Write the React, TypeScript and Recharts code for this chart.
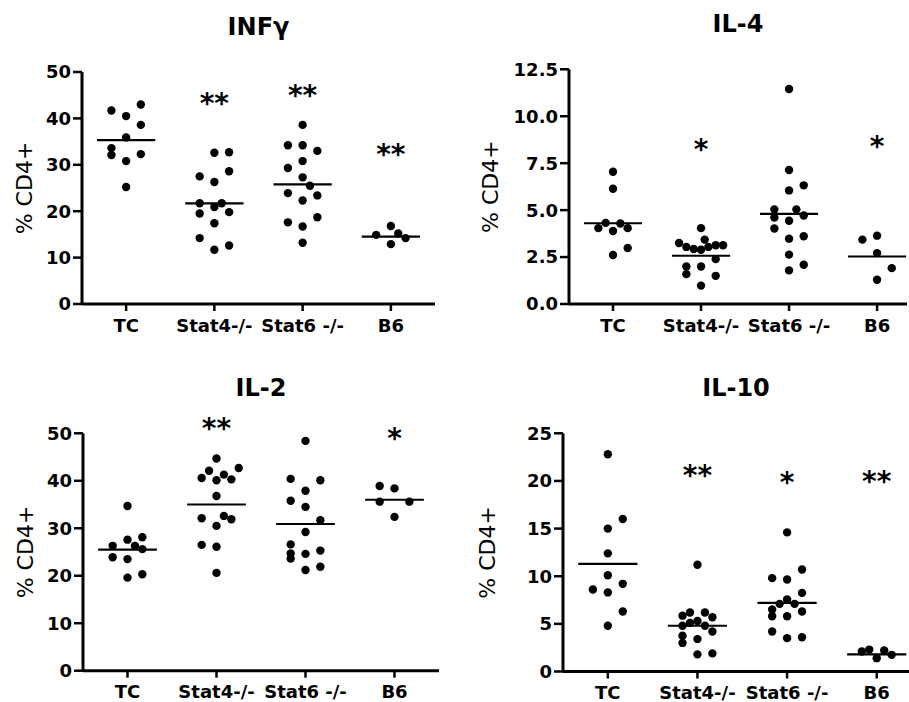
import React from 'react';
import {
  ScatterChart,
  Scatter,
  XAxis,
  YAxis,
  ReferenceLine,
  ReferenceDot,
  Label,
} from 'recharts';

// groups on the x axis
const groups = ['TC', 'Stat4-/-', 'Stat6 -/-', 'B6'];

// INFγ
const infgTC = [41.7, 40.5, 43.0, 38.6, 35.9, 33.6, 32.1, 30.8, 32.3, 25.2];
const infgTCLane = [-2, 0, 2, 2, 0, -2, -2, 0, 2, 0];
const infgStat4 = [32.6, 32.7, 28.6, 27.5, 26.3, 21.7, 20.9, 21.7, 19.8, 19.5, 17.4, 14.2, 12.6, 11.7];
const infgStat4Lane = [0, 2, 2, -2, 0, -2, 0, 1, 2, -2, 0, -2, 2, 0];
const infgStat6 = [38.6, 34.2, 34.2, 33.0, 30.8, 29.3, 27.3, 25.5, 23.9, 23.4, 22.3, 18.7, 17.6, 16.7, 13.2];
const infgStat6Lane = [0, -2, 0, 2, 0, -2, 0, 1, -2, 2, 0, 2, -2, 0, 0];
const infgB6 = [16.8, 14.9, 15.2, 14.2, 12.9];
const infgB6Lane = [0, -2, 1, 2, 0];
const infgMeans = [35.3, 21.7, 25.8, 14.5];
const infgStars = ['', '**', '**', '**'];
const infgStarY = [0, 44.5, 46.2, 33.5];

// IL-4
const il4TC = [7.04, 6.14, 4.32, 4.29, 4.04, 3.89, 4.04, 2.98, 2.61];
const il4TCLane = [0, 0, -1, 1, -2, 0, 2, 2, 0];
const il4Stat4 = [4.04, 3.25, 3.04, 2.93, 2.89, 3.43, 3.04, 3.13, 3.13, 2.39, 2.0, 2.0, 1.59, 1.5, 0.98];
const il4Stat4Lane = [0, -3, -2, -1, 0, 0.5, 1, 2, 3, 2, -2, 0, -2, 2, 0];
const il4Stat6 = [11.45, 7.14, 6.32, 6.05, 5.04, 5.04, 4.61, 4.43, 4.71, 4.02, 3.48, 3.61, 2.63, 2.09, 1.79];
const il4Stat6Lane = [0, 0, 2, 0, -2, 1, -2, 0, 2, -2, 0, 2, 0, 2, 0];
const il4B6 = [3.43, 3.64, 2.71, 1.91, 1.29];
const il4B6Lane = [-2, 0, 0, 2, 0];
const il4Means = [4.3, 2.57, 4.8, 2.53];
const il4Stars = ['', '*', '', '*'];
const il4StarY = [0, 8.5, 0, 8.7];

// IL-2
const il2TC = [34.7, 27.6, 28.1, 26.3, 26.3, 25.6, 23.9, 23.5, 19.6, 20.3];
const il2TCLane = [0, 0, 2, -2, 1, 2, -2, 0, 0, 2];
const il2Stat4 = [44.7, 42.1, 42.7, 41.3, 40.6, 40.1, 40.3, 36.8, 32.1, 32.6, 31.9, 30.5, 26.5, 26.1, 20.6];
const il2Stat4Lane = [0, -1, 3, 1, -2, 0, 2, 0, -2, 1, 2, 0, -2, 0, 0];
const il2Stat6 = [48.4, 40.4, 40.1, 37.9, 35.8, 34.5, 31.7, 29.2, 26.6, 24.7, 23.6, 24.6, 25.3, 21.2, 21.9];
const il2Stat6Lane = [0, -2, 2, 0, -2, 0, 2, 0, -2, -2, -2, 0, 2, 0, 2];
const il2B6 = [38.9, 38.4, 35.6, 35.6, 32.4];
const il2B6Lane = [-2, 0, -2, 2, 0];
const il2Means = [25.5, 35.0, 30.9, 36.0];
const il2Stars = ['', '**', '', '*'];
const il2StarY = [0, 52.1, 0, 50.1];

// IL-10
const il10TC = [22.8, 16.0, 15.0, 12.4, 10.1, 9.2, 8.6, 8.3, 6.3, 4.8];
const il10TCLane = [0, 2, 0, 0, 0, 2, -2, 0, 2, 0];
const il10Stat4 = [11.2, 5.86, 6.2, 6.2, 5.7, 4.8, 5.1, 5.3, 4.8, 3.76, 4.2, 3.4, 3.0, 1.8, 1.9];
const il10Stat4Lane = [0, -2, -1, 1, 2, -2, -1, 0, 1, -2, 2, 0, -2, 0, 2];
const il10Stat6 = [14.6, 9.8, 9.65, 10.7, 8.25, 7.55, 7.1, 7.1, 6.5, 6.3, 5.8, 5.8, 4.2, 3.5, 3.6];
const il10Stat6Lane = [0, -2, 0, 2, 2, 0, -1, 1, -2, 2, -2, 0, -2, 0, 2];
const il10B6 = [2.1, 2.3, 1.4, 2.2, 1.75];
const il10B6Lane = [-2, -1, 0, 1, 2];
const il10Means = [11.3, 4.8, 7.2, 1.8];
const il10Stars = ['', '**', '*', '**'];
const il10StarY = [0, 21.2, 20.4, 20.5];

const LANE = 1 / 12;
const FONT = 'DejaVu Sans';

interface PanelProps {
  left: number;
  top: number;
  width: number;
  height: number;
  plotTop: number;
  plotBottom: number;
  plotLeft: number;
  plotRight: number;
  labelX: number;
  title: string;
  yDomain: [number, number];
  yTicks: number[];
  xMax: number;
  fmt: (v: number) => string;
  values: number[][];
  lanes: number[][];
  means: number[];
  stars: string[];
  starY: number[];
}

const Panel = (p: PanelProps) => {
  const points = p.values.flatMap((vals, g) =>
    vals.map((v, k) => ({ x: g + p.lanes[g][k] * LANE, y: v }))
  );
  const xAxisHeight = 30;
  const margin = {
    top: p.plotTop - p.top,
    right: p.left + p.width - p.plotRight,
    bottom: p.top + p.height - p.plotBottom - xAxisHeight,
    left: 0,
  };
  return (
    <div style={{ position: 'absolute', left: p.left, top: p.top, width: p.width, height: p.height }}>
      <div
        style={{
          position: 'absolute',
          left: p.plotLeft - p.left,
          width: p.plotRight - p.plotLeft,
          top: p.plotTop - p.top - 57,
          textAlign: 'center',
          fontFamily: FONT,
          fontWeight: 'bold',
          fontSize: 24,
          lineHeight: '24px',
        }}
      >
        {p.title}
      </div>
      <ScatterChart width={p.width} height={p.height} margin={margin}>
        <XAxis
          type="number"
          dataKey="x"
          domain={[-0.5, p.xMax]}
          ticks={[0, 1, 2, 3]}
          interval={0}
          height={xAxisHeight}
          tickFormatter={(v: number) => groups[v]}
          axisLine={{ stroke: '#000', strokeWidth: 3 }}
          tickLine={{ stroke: '#000', strokeWidth: 2.5 }}
          tickSize={7}
          tickMargin={8}
          tick={{ fill: '#000', fontSize: 18, fontWeight: 'bold', fontFamily: FONT }}
        />
        <YAxis
          type="number"
          dataKey="y"
          domain={p.yDomain}
          ticks={p.yTicks}
          interval={0}
          width={p.plotLeft - p.left}
          tickFormatter={p.fmt}
          axisLine={{ stroke: '#000', strokeWidth: 3 }}
          tickLine={{ stroke: '#000', strokeWidth: 2.5 }}
          tickSize={9}
          tickMargin={2}
          tick={{ fill: '#000', fontSize: 18, fontWeight: 'bold', fontFamily: FONT }}
        >
          <Label
            value="% CD4+"
            angle={-90}
            position="insideLeft"
            offset={p.labelX - p.left}
            style={{ textAnchor: 'middle', fontSize: 22, fontFamily: FONT, fill: '#000' }}
          />
        </YAxis>
        <Scatter
          data={points}
          isAnimationActive={false}
          shape={(s: any) => <circle cx={s.cx} cy={s.cy} r={4.2} fill="#000" />}
        />
        {p.means.map((m, g) => (
          <ReferenceLine
            key={'m' + g}
            segment={[
              { x: g - 0.33, y: m },
              { x: g + 0.33, y: m },
            ]}
            stroke="#000"
            strokeWidth={2.2}
            ifOverflow="visible"
          />
        ))}
        {p.stars.map((s, g) =>
          s ? (
            <ReferenceDot
              key={'s' + g}
              x={g}
              y={p.starY[g]}
              ifOverflow="visible"
              shape={(d: any) => (
                <text
                  x={d.cx}
                  y={d.cy + 15}
                  textAnchor="middle"
                  fontSize={28}
                  fontWeight="bold"
                  fontFamily={FONT}
                  fill="#000"
                >
                  {s}
                </text>
              )}
            />
          ) : null
        )}
      </ScatterChart>
    </div>
  );
};

const fmtInt = (v: number) => String(v);
const fmt1 = (v: number) => v.toFixed(1);

export default function App() {
  return (
    <div
      style={{
        position: 'absolute',
        left: 0,
        top: 0,
        width: 909,
        height: 702,
        overflow: 'hidden',
        background: '#fff',
      }}
    >
      <Panel
        left={0}
        top={0}
        width={450}
        height={345}
        plotTop={72}
        plotBottom={304}
        plotLeft={82}
        plotRight={435}
        labelX={24}
        title="INFγ"
        yDomain={[0, 50]}
        yTicks={[0, 10, 20, 30, 40, 50]}
        xMax={3.5}
        fmt={fmtInt}
        values={[infgTC, infgStat4, infgStat6, infgB6]}
        lanes={[infgTCLane, infgStat4Lane, infgStat6Lane, infgB6Lane]}
        means={infgMeans}
        stars={infgStars}
        starY={infgStarY}
      />
      <Panel
        left={460}
        top={0}
        width={449}
        height={345}
        plotTop={69.3}
        plotBottom={304}
        plotLeft={569}
        plotRight={907}
        labelX={490}
        title="IL-4"
        yDomain={[0, 12.5]}
        yTicks={[0, 2.5, 5, 7.5, 10, 12.5]}
        xMax={3.34}
        fmt={fmt1}
        values={[il4TC, il4Stat4, il4Stat6, il4B6]}
        lanes={[il4TCLane, il4Stat4Lane, il4Stat6Lane, il4B6Lane]}
        means={il4Means}
        stars={il4Stars}
        starY={il4StarY}
      />
      <Panel
        left={0}
        top={360}
        width={450}
        height={342}
        plotTop={433.3}
        plotBottom={670.7}
        plotLeft={83}
        plotRight={439}
        labelX={25}
        title="IL-2"
        yDomain={[0, 50]}
        yTicks={[0, 10, 20, 30, 40, 50]}
        xMax={3.5}
        fmt={fmtInt}
        values={[il2TC, il2Stat4, il2Stat6, il2B6]}
        lanes={[il2TCLane, il2Stat4Lane, il2Stat6Lane, il2B6Lane]}
        means={il2Means}
        stars={il2Stars}
        starY={il2StarY}
      />
      <Panel
        left={460}
        top={360}
        width={449}
        height={342}
        plotTop={433.3}
        plotBottom={671.5}
        plotLeft={563}
        plotRight={909}
        labelX={487}
        title="IL-10"
        yDomain={[0, 25]}
        yTicks={[0, 5, 10, 15, 20, 25]}
        xMax={3.36}
        fmt={fmtInt}
        values={[il10TC, il10Stat4, il10Stat6, il10B6]}
        lanes={[il10TCLane, il10Stat4Lane, il10Stat6Lane, il10B6Lane]}
        means={il10Means}
        stars={il10Stars}
        starY={il10StarY}
      />
    </div>
  );
}
